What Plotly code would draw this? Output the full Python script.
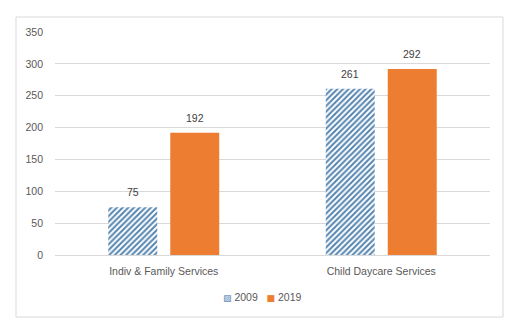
import plotly.graph_objects as go

categories = ["Indiv & Family Services", "Child Daycare Services"]
series_names = ["2009", "2019"]
values_2009 = [75, 261]
values_2019 = [192, 292]
y_ticks = [0, 50, 100, 150, 200, 250, 300, 350]

FONT = "Liberation Sans"
L, R, T, B = 55, 490, 32, 255
W, H = 525, 332
BLUE = "#5585b0"
ORANGE = "#ed7d31"

fig = go.Figure()
fig.add_trace(go.Bar(
    name=series_names[0], x=categories, y=values_2009,
    marker=dict(color=BLUE, line=dict(width=0),
                pattern=dict(shape="/", fgcolor=BLUE, bgcolor="white",
                             size=4, solidity=0.5, fillmode="replace")),
))
fig.add_trace(go.Bar(
    name=series_names[1], x=categories, y=values_2019,
    marker=dict(color=ORANGE, line=dict(width=0)),
))

# value labels above bars
for vals, xs in ((values_2009, -31), (values_2019, 31)):
    for c, v in zip(categories, vals):
        fig.add_annotation(x=c, y=v, text=str(v), showarrow=False,
                           xref="x", yref="y", xshift=xs, yshift=7,
                           yanchor="bottom",
                           font=dict(color="#404040", size=10.5, family=FONT))

pw, ph = R - L, B - T
fig.add_shape(type="rect", xref="paper", yref="paper",
              x0=(16 - L) / pw, x1=(503 - L) / pw,
              y0=(B - 317) / ph, y1=(B - 17) / ph,
              line=dict(color="#d9d9d9", width=1), layer="below")

# compact legend as text
legend_text = (
    f'<span style="font-family:DejaVu Sans;font-size:9px;color:{BLUE}">▨</span> {series_names[0]}'
    f'&nbsp;&nbsp;&nbsp;<span style="font-family:DejaVu Sans;font-size:9px;color:{ORANGE}">■</span> {series_names[1]}'
)
fig.add_annotation(xref="paper", yref="paper", x=(262 - L) / pw, y=(B - 297) / ph,
                   xanchor="center", yanchor="middle", showarrow=False,
                   text=legend_text,
                   font=dict(size=10.5, color="#595959", family=FONT))

fig.update_layout(
    width=W, height=H,
    margin=dict(l=L, r=W - R, t=T, b=H - B, pad=0),
    paper_bgcolor="white", plot_bgcolor="white",
    barmode="group", bargap=0.43, bargroupgap=0.21,
    font=dict(family=FONT, color="#595959", size=10.5),
    showlegend=False,
    xaxis=dict(showgrid=False, showline=False, ticks="",
               ticklabelstandoff=8,
               tickfont=dict(size=10.5, color="#595959")),
    yaxis=dict(range=[0, 350], tickvals=y_ticks, showgrid=True,
               gridcolor="#d9d9d9", gridwidth=1, zeroline=True,
               zerolinecolor="#d9d9d9", zerolinewidth=1, ticks="",
               ticklabelstandoff=11,
               tickfont=dict(size=10.5, color="#595959")),
)

fig.write_html("out.html")
